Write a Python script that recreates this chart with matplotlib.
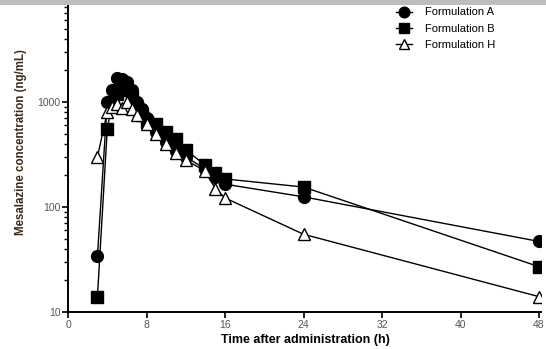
import matplotlib
matplotlib.use("Agg")
import matplotlib.pyplot as plt
from matplotlib.patches import Rectangle
from matplotlib.ticker import FixedLocator, LogLocator, NullFormatter

plt.rcParams['font.family'] = ['Liberation Sans', 'DejaVu Sans']

time_A = [3, 4, 4.5, 5, 5.5, 6, 6.5, 7, 7.5, 8, 9, 10, 11, 12, 14, 15, 16, 24, 48]
conc_A = [34, 1000, 1300, 1700, 1650, 1550, 1300, 1000, 850, 700, 520, 420, 340, 300, 230, 195, 165, 125, 47]

time_B = [3, 4, 4.5, 5, 5.5, 6, 6.5, 7, 7.5, 8, 9, 10, 11, 12, 14, 15, 16, 24, 48]
conc_B = [14, 550, 1000, 1200, 1400, 1300, 1100, 900, 750, 650, 620, 520, 440, 350, 250, 210, 185, 155, 27]

time_H = [3, 4, 4.5, 5, 5.5, 6, 6.5, 7, 8, 9, 10, 11, 12, 14, 15, 16, 24, 48]
conc_H = [300, 800, 900, 950, 880, 1000, 850, 750, 620, 500, 400, 330, 280, 220, 150, 122, 55, 14]

x_ticks = [0, 8, 16, 24, 32, 40, 48]
y_ticks = [10, 100, 1000]
y_tick_labels = ["10", "100", "1000"]

W, H = 546, 349
fig = plt.figure(figsize=(W / 100, H / 100), dpi=100)
left, right, bottom, top = 68, 541, 312, -3
ax = fig.add_axes([left / W, (H - bottom) / H, (right - left) / W, (bottom - top) / H])

ms = 8.5
ax.plot(time_A, conc_A, color='black', lw=1.0, marker='o', ms=ms, mfc='black', mec='black', label='Formulation A', zorder=3)
ax.plot(time_B, conc_B, color='black', lw=1.0, marker='s', ms=ms - 0.5, mfc='black', mec='black', label='Formulation B', zorder=3)
ax.plot(time_H, conc_H, color='black', lw=1.0, marker='^', ms=ms - 0.5, mfc='white', mec='black', mew=1.0, label='Formulation H', zorder=4)

ax.set_yscale('log')
ax.set_xlim(0, 48.2)
ax.set_ylim(10, 10000)
ax.xaxis.set_major_locator(FixedLocator(x_ticks))
ax.set_yticks(y_ticks)
ax.set_yticklabels(y_tick_labels)
ax.yaxis.set_minor_locator(LogLocator(base=10, subs=range(2, 10)))
ax.yaxis.set_minor_formatter(NullFormatter())

for s in ['top', 'right']:
    ax.spines[s].set_visible(False)
for s in ['left', 'bottom']:
    ax.spines[s].set_linewidth(1.4)

ax.tick_params(axis='both', which='major', direction='out', length=4, width=1.2, labelsize=7.5, labelcolor='#555555', pad=1.5)
ax.tick_params(axis='y', which='minor', direction='out', length=3, width=1.0)

xl = ax.set_xlabel('Time after administration (h)', fontsize=9, fontweight='bold', va='center')
ax.xaxis.set_label_coords((305 - left) / (right - left), -(340 - bottom) / (bottom - top))
ax.set_ylabel('Mesalazine concentration (ng/mL)', fontsize=8.3, fontweight='bold', color='#3a2a1a')
ax.yaxis.set_label_coords(-(68 - 27) / (right - left), (bottom - 142) / (bottom - top))

leg = fig.legend(loc='upper left', bbox_to_anchor=(392 / W, 1 - 3 / H), frameon=False, fontsize=8,
                 handlelength=1.4, handletextpad=1.2, labelspacing=0.55, borderaxespad=0, markerscale=0.9)

fig.patches.append(Rectangle((0, 1 - 5 / H), 1, 5 / H, transform=fig.transFigure,
                             facecolor='#bdbdbd', edgecolor='none', zorder=10))

fig.savefig('out.png', dpi=100)
